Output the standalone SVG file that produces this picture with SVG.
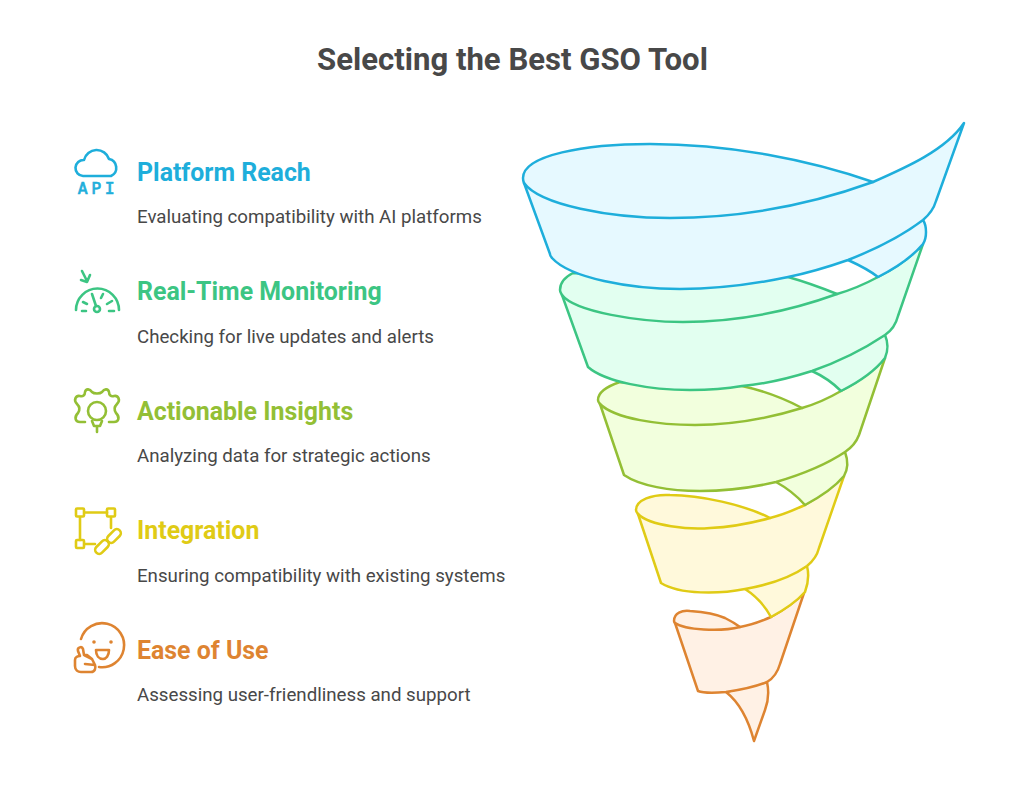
<svg xmlns="http://www.w3.org/2000/svg" width="1024" height="787" viewBox="0 0 1024 787">
<style>
text{font-family:Roboto,"Liberation Sans",sans-serif}
.t{font-size:31.100px;font-weight:700;fill:#484848}
.h{font-size:24.900px;font-weight:700}
.d{font-size:18.700px;fill:#484848}
.s{stroke-width:2.500;stroke-linejoin:round;stroke-linecap:round}
.i{fill:none;stroke-width:2.600;stroke-linejoin:round;stroke-linecap:round}
.blue{stroke:#1EAEDB}.green{stroke:#3CC583}.lime{stroke:#93BF35}.yellow{stroke:#E0CB15}.orange{stroke:#DE8431}
</style>
<rect width="1024" height="787" fill="#fff"/>
<text class="t" x="512.500" y="70" text-anchor="middle">Selecting the Best GSO Tool</text>
<g id="funnel">
<g id="layer-ease" class="s orange" fill="#FFF1E5">
<path d="M767 682C769 691 768 702 765 710L754 741C749 722 740 703 726 692Z"/>
<path d="M674 621C674 613 682 610 690 611C704 612 716 614 725 618C731 621 736 624 740 627C752 625 762 621 771 617C783 610 795 602 804 593L780 664C778 671 774 678 767 682C755 687 740 690 726 692C714 693 703 693 698 691L675 623C674 622 674 621 674 621Z"/>
<path d="M675 623C685 630 720 632 740 627" fill="none"/>
</g>
<g id="layer-integration" class="s yellow" fill="#FFF9DB">
<path d="M807 566C809 574 808 584 805 592C797 601 784 610 771 617C765 606 756 596 745 589Z"/>
<path d="M636 510C636 500 652 494 670 495C700 495 745 505 770 518C783 515 794 510 805 505C820 496 834 487 844 476L819 548C817 556 812 562 807 566C790 578 768 585 745 589C720 594 680 595 661 583L638 514C637 513 636 511 636 510Z"/>
<path d="M638 514C650 526 690 530 710 528C732 527 752 523 770 518" fill="none"/>
</g>
<g id="layer-insights" class="s lime" fill="#F2FFDD">
<path d="M845 452C848 460 848 469 844 476C834 488 820 497 805 505C797 496 787 488 776 482Z"/>
<path d="M598 400C598 392 608 386 620 382L742 386C765 391 785 399 802 408C816 404 829 398 841 391C858 382 874 371 885 358L859 435C856 443 851 448 845 452C824 466 800 475 776 482C755 487 725 491 700 491C670 491 640 486 624 475L600 404C599 403 598 401 598 400Z"/>
<path d="M600 404C615 419 660 425 695 425C732 425 770 418 802 408" fill="none"/>
</g>
<g id="layer-monitoring" class="s green" fill="#E2FFF0">
<path d="M885 335C888 342 888 351 885 358C875 371 859 382 841 391C833 383 823 376 812 371Z"/>
<path d="M560 290C560 283 565 277 573 273L788 277C806 282 822 288 837 294C851 290 865 284 878 277C895 268 912 257 923 244L898 316C896 324 891 331 885 335C864 349 838 362 812 371C790 378 765 384 742 386C725 389 708 390 690 390C650 390 605 382 588 367L562 295C561 293 560 292 560 290Z"/>
<path d="M562 295C575 312 640 322 683 322C736 322 790 311 837 294" fill="none"/>
</g>
<g id="layer-reach" class="s blue" fill="#E6F9FF">
<path d="M923 220C927 226 927 238 923 244C912 257 896 268 878 277C869 270 859 265 848 260Z"/>
<path d="M523 178C523 155 585 144 650 144C730 144 810 160 873 182C905 168 946 150 964 123L936 201C934 208 930 214 923 220C902 236 876 249 848 260C828 267 808 273 788 277C755 284 715 289 680 289C630 289 570 278 552 258C551 257 550 255 550 254L524 183C523 181 523 179 523 178Z"/>
<path d="M524 183C540 205 610 218 670 218C745 218 815 203 873 182" fill="none"/>
</g>
</g>
<g id="step-platform-reach">
<path class="i blue" d="M83 176A8 8 0 0 1 84 160A13 13 0 0 1 109 159A9 9 0 0 1 111 176Z"/>
<text x="98" y="194" text-anchor="middle" fill="#1EAEDB" stroke="#1EAEDB" stroke-width=".7" style="font-family:'DejaVu Sans Mono',monospace;font-size:16.500px;letter-spacing:3.500px">API</text>
<text class="h" x="137" y="181" fill="#1EAEDB">Platform Reach</text>
<text class="d" x="137" y="223">Evaluating compatibility with AI platforms</text>
</g>
<g id="step-real-time-monitoring">
<path class="i green" d="M76 310A21.500 21.500 0 0 1 119 310M82 311H86M109 311H114M83 302L87 304M107 304L112 301M101 298L103 294M92 294L96 306M82 271L87 281M81 280L87 282L90 275"/>
<circle class="i green" cx="97" cy="309" r="3"/>
<text class="h" x="137" y="300" fill="#3CC583">Real-Time Monitoring</text>
<text class="d" x="137" y="343">Checking for live updates and alerts</text>
</g>
<g id="step-actionable-insights">
<path class="i lime" d="M85 422H80C75 422 74 417 78 413C80 410 80 407 77 404C73 400 76 395 80 396C83 397 85 395 85 392C86 388 90 389 92 392C94 394 100 394 102 392C104 389 108 388 109 392C109 395 111 397 114 396C118 395 121 400 117 404C114 407 114 410 116 413C120 417 119 422 114 422H109"/>
<circle class="i lime" cx="97" cy="411" r="9"/>
<path class="i lime" d="M92 421L94 426H100L102 421M97 426V432"/>
<text class="h" x="137" y="420" fill="#93BF35">Actionable Insights</text>
<text class="d" x="137" y="462">Analyzing data for strategic actions</text>
</g>
<g id="step-integration">
<path class="i yellow" d="M84.500 512.500H107M80 517V540M111 517V528M85 544H95"/>
<rect class="i yellow" x="76" y="508.500" width="8" height="8" rx="1"/>
<rect class="i yellow" x="107" y="508.500" width="8" height="8" rx="1"/>
<rect class="i yellow" x="76" y="540" width="8" height="8" rx="1"/>
<rect class="i yellow" x="94" y="543" width="16" height="8" rx="4" transform="rotate(-45 102 547)"/>
<rect class="i yellow" x="106" y="532" width="16" height="8" rx="4" transform="rotate(-45 114 536)"/>
<text class="h" x="137" y="539" fill="#E0CB15">Integration</text>
<text class="d" x="137" y="582">Ensuring compatibility with existing systems</text>
</g>
<g id="step-ease-of-use">
<path class="i orange" d="M81 639A22 22 0 1 1 99 667"/>
<circle cx="94" cy="642" r="1.800" fill="#DE8431"/><circle cx="111" cy="642" r="1.800" fill="#DE8431"/>
<path class="i orange" d="M96 650H109C109 656 106 659 103 659C99 659 96 656 96 650Z"/>
<path class="i orange" d="M75 660V666C75 670 78 672 81 672H91C95 672 96 668 95 665L92 659L87 655H84L83 649C82 646 77 647 78 651L80 656C78 656 75 657 75 660ZM84 655L92 659M85 664L95 665"/>
<text class="h" x="137" y="659" fill="#DE8431">Ease of Use</text>
<text class="d" x="137" y="701">Assessing user-friendliness and support</text>
</g>
</svg>
